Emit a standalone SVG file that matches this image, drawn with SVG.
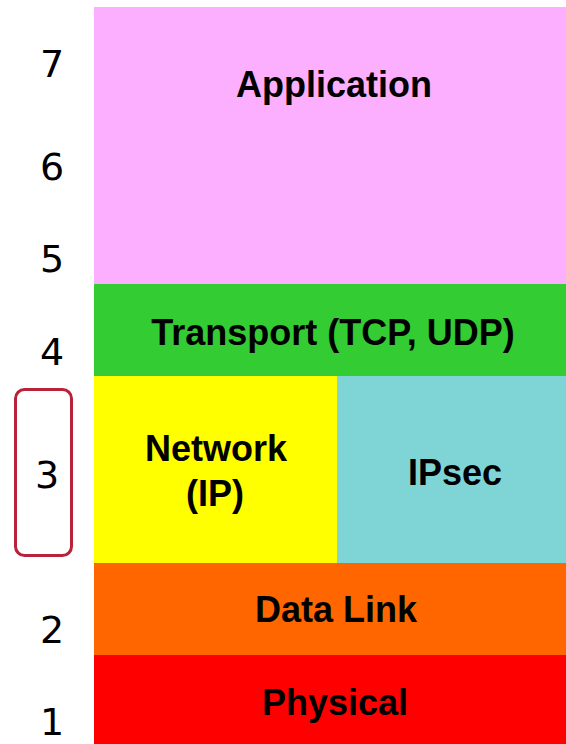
<svg xmlns="http://www.w3.org/2000/svg" width="566" height="744" viewBox="0 0 566 744">
  <style>
    .label { font-family: "Liberation Sans", Arial, sans-serif; font-weight: bold; font-size: 36px; fill: #000; text-anchor: middle; }
    .num { font-family: "DejaVu Sans", Verdana, sans-serif; font-size: 38px; fill: #000; text-anchor: middle; }
  </style>
  <rect width="566" height="744" fill="#ffffff"/>

  <!-- layer numbers -->
  <g id="numbers">
    <text class="num" x="52" y="77">7</text>
    <text class="num" x="52" y="180">6</text>
    <text class="num" x="52" y="272">5</text>
    <text class="num" x="52" y="365">4</text>
    <text class="num" x="47" y="488">3</text>
    <text class="num" x="52" y="643">2</text>
    <text class="num" x="52" y="735">1</text>
  </g>

  <!-- highlight around layer 3 -->
  <g id="highlight">
    <rect x="15.5" y="389.5" width="56" height="166" rx="9" ry="9" fill="none" stroke="#b8233a" stroke-width="3"/>
  </g>

  <g id="application">
    <rect x="94" y="7" width="472" height="277" fill="#fbaffe"/>
    <text class="label" x="334" y="97">Application</text>
  </g>
  <g id="transport">
    <rect x="94" y="284" width="472" height="92" fill="#33cc33"/>
    <text class="label" x="333" y="345">Transport (TCP, UDP)</text>
  </g>
  <g id="network">
    <rect x="94" y="376" width="243" height="187" fill="#ffff00"/>
    <text class="label" x="216" y="461">Network</text>
    <text class="label" x="215" y="506">(IP)</text>
  </g>
  <g id="ipsec">
    <rect x="337" y="376" width="229" height="187" fill="#7fd5d6"/>
    <text class="label" x="455" y="485">IPsec</text>
  </g>
  <g id="datalink">
    <rect x="94" y="563" width="472" height="92" fill="#ff6600"/>
    <text class="label" x="336" y="622">Data Link</text>
  </g>
  <g id="physical">
    <rect x="94" y="655" width="472" height="89" fill="#ff0000"/>
    <text class="label" x="335" y="715">Physical</text>
  </g>
</svg>
